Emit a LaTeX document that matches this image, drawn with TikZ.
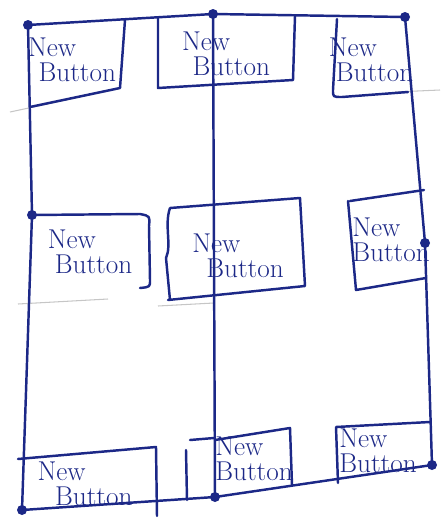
\documentclass[tikz,border=0pt]{standalone}
\definecolor{tinta}{RGB}{28,40,135}
\tikzset{
    trazo/.style={draw=tinta,line width=1.4pt,line cap=round,line join=round},
    guia/.style={draw=gray!45,line width=.6pt},
    boton/.style={text=tinta,font=\fontsize{15.5}{16}\selectfont,align=left,inner sep=0pt},
}
\begin{document}
\begin{tikzpicture}[x=.02cm,y=-.02cm]
    \useasboundingbox (0,0) rectangle (440,521);

    % Lineas de la hoja.
    \draw[guia] (10,112) -- (118,89);
    \draw[guia] (395,92) -- (440,90);
    \draw[guia] (18,304) -- (108,299);
    \draw[guia] (158,306) -- (214,303);

    % Marco exterior y divisiones.
    \draw[trazo] (28,25) -- (213,14) -- (405,17);
    \draw[trazo] (28,25) -- (32,215) -- (22,510);
    \draw[trazo] (213,14) -- (215,497);
    \draw[trazo] (405,17) -- (425,243) -- (432,465);
    \draw[trazo] (22,510) -- (215,497) -- (432,465);
    \foreach \p in {(28,25),(213,14),(405,17),(32,215),(425,243),(22,510),(215,497),(432,465)}
        \fill[tinta] \p circle (5);

    % Fila de arriba.
    \draw[trazo] (125,20) -- (120,88) -- (30,107);
    \draw[trazo] (158,18) -- (158,88) -- (293,80) -- (295,16);
    \draw[trazo] (337,19) -- (333,90) .. controls (333,97) .. (342,97) -- (408,92);
    \node[boton] (b1) at (72,60) {New\\[-2pt]\hspace*{6pt}Button};
    \node[boton] (b2) at (226,54) {New\\[-2pt]\hspace*{6pt}Button};
    \node[boton] (b3) at (371,60) {New\\[-2pt]\hspace*{4pt}Button};

    % Fila del medio.
    \draw[trazo] (32,215) -- (140,214) .. controls (150,216) .. (149,226) -- (150,280) .. controls (150,287) .. (140,288);
    \draw[trazo] (170,208) -- (300,198) -- (305,286) -- (168,300)
        (170,208) .. controls (164,225) and (172,245) .. (166,258) -- (170,300);
    \draw[trazo] (350,201) -- (424,190) (348,201) -- (356,290) -- (426,278);
    \node[boton] (b4) at (90,252) {New\\[-2pt]\hspace*{4pt}Button};
    \node[boton] (b5) at (238,256) {New\\[-2pt]\hspace*{8pt}Button};
    \node[boton] (b6) at (391,240) {New\\[-2pt]Button};

    % Fila de abajo.
    \draw[trazo] (18,459) -- (156,447) -- (157,516);
    \draw[trazo] (186,450) -- (187,500) (190,440) -- (214,438);
    \draw[trazo] (215,440) -- (290,428) -- (292,485);
    \draw[trazo] (338,483) -- (336,427) -- (430,422);
    \node[boton] (b7) at (85,484) {New\\[-2pt]\hspace*{10pt}Button};
    \node[boton] (b8) at (254,459) {New\\[-2pt]Button};
    \node[boton] (b9) at (378,451) {New\\[-2pt]Button};
\end{tikzpicture}
\end{document}
